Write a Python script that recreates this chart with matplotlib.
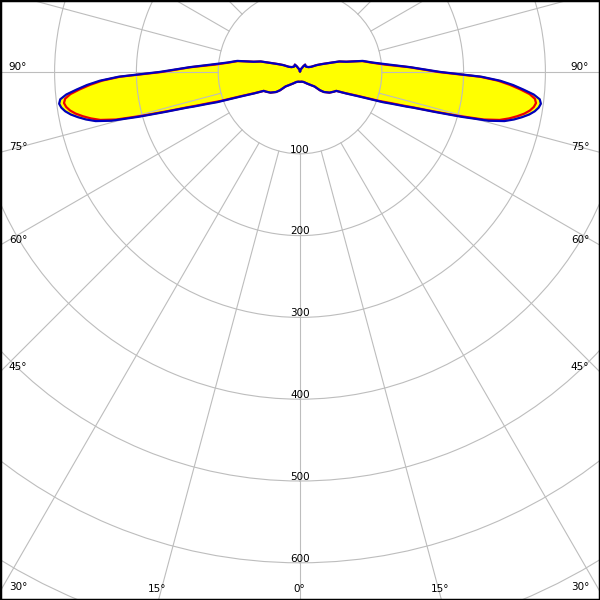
import numpy as np
import matplotlib
matplotlib.use("Agg")
import matplotlib.pyplot as plt
from matplotlib.patches import Rectangle

# gamma angles (deg from nadir) and intensity values for the two planes
gamma = [0, 10, 20, 30, 40, 45, 47.5, 50, 55, 60, 62.5, 65, 67.5, 70, 71, 72,
         72.5, 73.5, 74.5, 75.5, 76.5, 77.5, 78.5, 79.5, 80.5, 81.5, 82.5, 83.5,
         84.5, 85.5, 86.5, 87.5, 88.5, 90, 92.5, 95, 97.5, 100, 102.5, 105,
         107.5, 110, 112.5, 115, 120, 130, 140, 145, 150, 160, 170, 180]
plane_red = [12, 12, 13, 16, 21, 25, 33, 38, 44, 48, 50, 61, 76, 104, 116, 133,
             142, 168, 200, 232, 251, 262, 271, 279, 285, 289, 291, 289,
             282, 270, 257, 242, 220, 169, 134, 104, 88, 77, 58, 49,
             36, 28, 22, 15, 12, 10, 10, 11, 8, 4, 2, 1]
plane_blue = [12, 12, 13, 16, 21, 25, 33, 38, 44, 48, 50, 62, 78, 108, 120, 137,
              145, 172, 205, 238, 257, 268, 277, 285, 291, 295, 297, 295,
              287, 274, 261, 245, 222, 172, 135, 107, 89, 78, 58, 50,
              36, 28, 22, 15, 12, 10, 10, 11, 8, 4, 2, 1]

ring_values = [100, 200, 300, 400, 500, 600, 700]
ring_labels = ["100", "200", "300", "400", "500", "600"]
side_angles = [90, 75, 60, 45, 30]
bottom_angles = [15, 0]

W = 600
cx, cy = 300, 72          # pole position in pixels (from top-left)
px_per_unit = 0.818
rmax = 760

fig = plt.figure(figsize=(6, 6), dpi=100)
size = 2 * rmax * px_per_unit / W
ax = fig.add_axes([cx / W - size / 2, 1 - cy / W - size / 2, size, size],
                  projection="polar")
ax.set_theta_zero_location("S")
ax.set_ylim(0, rmax)
ax.set_rticks(ring_values)
ax.set_yticklabels([])
ax.set_xticks([])
ax.grid(True, color="#bdbdbd", lw=0.8)
ax.spines["polar"].set_visible(False)

# spokes every 15 deg, starting at the first ring
for a in range(0, 360, 15):
    ax.plot([np.radians(a)] * 2, [100, rmax], color="#bdbdbd", lw=0.8, zorder=1.5)

# mirror curves to both sides
g = np.radians(gamma)
theta = np.concatenate([-g[::-1], g[1:]])
red = np.concatenate([plane_red[::-1], plane_red[1:]])
blue = np.concatenate([plane_blue[::-1], plane_blue[1:]])

ax.fill(theta, blue, color="#ffff00", zorder=1)
ax.plot(theta, red, color="#ee0000", lw=1.6, zorder=2)
ax.plot(theta, blue, color="#0000c0", lw=1.6, zorder=2.1)

for v, lab in zip(ring_values, ring_labels):
    ax.text(0, v - 1.5, lab, ha="center", va="baseline", fontsize=7.5)

# angle labels along the border
for a in side_angles:
    y_line = cy + (W / 2) / np.tan(np.radians(a)) if a != 90 else cy
    fig.text(18 / W, 1 - (y_line - 2) / W, f"{a}°", ha="center", va="baseline", fontsize=7.5)
    fig.text(580 / W, 1 - (y_line - 2) / W, f"{a}°", ha="center", va="baseline", fontsize=7.5)
for a in bottom_angles:
    dx = (W - cy) * np.tan(np.radians(a))
    for x in sorted(set([cx - dx, cx + dx])):
        fig.text((x - 1) / W, 1 - 592 / W, f"{a}°", ha="center", va="baseline", fontsize=7.5)

fig.patches.append(Rectangle((0, 0), 1, 1, transform=fig.transFigure,
                             fill=False, ec="black", lw=2.5))

fig.savefig("out.png", dpi=100)
